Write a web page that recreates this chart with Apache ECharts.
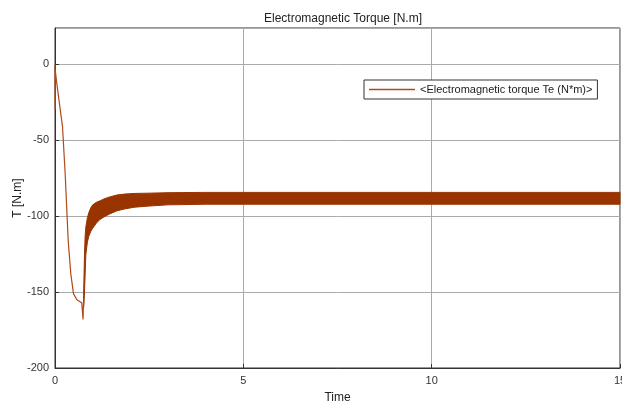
<!DOCTYPE html>
<html lang="en">
<head>
    <meta charset="utf-8">
    <title>ECharts</title>
    <script src="https://cdn.jsdelivr.net/npm/echarts@6/dist/echarts.min.js"></script>
</head>
<body style="margin:0;background:#fff">
<div id="main" style="width: 622px;height:404px;"></div>
<script type="text/javascript">
    // start-up transient (thin line)
    var startT = [0, 0.004, 0.008, 0.045, 0.13, 0.2, 0.22, 0.27, 0.31, 0.35, 0.42, 0.49, 0.58, 0.71, 0.74, 0.745, 0.755, 0.76];
    var startTe = [0, -30, -4, -12, -28, -41, -50, -72, -94, -116, -138, -151, -155, -157, -158, -168, -158, -156];

    // ripple band (upper / lower envelope of the torque)
    var bandT = [0.76, 0.78, 0.80, 0.82, 0.86, 0.9, 0.95, 1.0, 1.1, 1.2, 1.3, 1.45, 1.65, 1.85, 2.1, 2.5, 3.0, 4.0, 15];
    var bandUpper = [-152, -128, -113, -107, -101, -97.5, -94.5, -92.5, -90.8, -89.8, -88.6, -87.3, -86, -85.4, -85, -84.8, -84.5, -84.3, -84.3];
    var bandLower = [-160, -152, -138, -125, -117, -113, -110, -108, -104.5, -102, -100.5, -98.5, -96.4, -95.2, -94.1, -93.3, -92.5, -92.1, -92.1];

    var seriesName = '<Electromagnetic torque Te (N*m)>';
    var lineColor = '#b04a18';
    var bandColor = '#993300';

    var startData = [];
    for (var i = 0; i < startT.length; i++) {
        startData.push([startT[i], startTe[i]]);
    }

    // band drawn as one polygon: upper edge left->right, lower edge right->left
    function renderBand(params, api) {
        var pts = [];
        for (var k = 0; k < bandT.length; k++) {
            pts.push(api.coord([bandT[k], bandUpper[k]]));
        }
        for (var m = bandT.length - 1; m >= 0; m--) {
            pts.push(api.coord([bandT[m], bandLower[m]]));
        }
        return {
            type: 'polygon',
            shape: {points: pts},
            style: {fill: bandColor, stroke: bandColor, lineWidth: 1}
        };
    }

    var myChart = echarts.init(document.getElementById('main'));
    var option = {
        animation: false,
        textStyle: {fontFamily: 'Liberation Sans'},
        title: {
            text: 'Electromagnetic Torque [N.m]',
            left: 338,
            textAlign: 'center',
            top: 8,
            textStyle: {fontSize: 12, fontWeight: 'normal', color: '#222'}
        },
        legend: {
            data: [{name: seriesName, icon: 'rect'}],
            left: 364,
            top: 80,
            itemWidth: 46,
            itemHeight: 1.5,
            itemGap: 4,
            padding: [4, 5, 4, 5],
            borderColor: '#333',
            borderWidth: 1,
            backgroundColor: '#fff',
            textStyle: {fontSize: 11, color: '#222'}
        },
        grid: {
            left: 55,
            right: 2,
            top: 28,
            bottom: 36,
            outerBoundsMode: 'none',
            containLabel: false,
            show: true,
            borderColor: '#333',
            borderWidth: 1
        },
        xAxis: {
            type: 'value',
            min: 0,
            max: 15,
            interval: 5,
            name: 'Time',
            nameLocation: 'middle',
            nameGap: 24,
            nameTextStyle: {fontSize: 12, color: '#222'},
            axisLine: {onZero: false, lineStyle: {color: '#333'}},
            axisTick: {inside: true, length: 4, lineStyle: {color: '#333'}},
            axisLabel: {fontSize: 11, color: '#333', margin: 7},
            splitLine: {lineStyle: {color: '#aaa'}}
        },
        yAxis: {
            type: 'value',
            min: -200,
            max: 24,
            interval: 50,
            name: 'T [N.m]',
            nameLocation: 'middle',
            nameGap: 31,
            nameMoveOverlap: false,
            nameTextStyle: {fontSize: 12, color: '#222'},
            axisLine: {show: true, onZero: false, lineStyle: {color: '#333'}},
            axisTick: {inside: true, length: 4, lineStyle: {color: '#333'}},
            axisLabel: {fontSize: 11, color: '#333', margin: 6, showMaxLabel: false},
            splitLine: {lineStyle: {color: '#aaa'}}
        },
        series: [{
            name: seriesName,
            type: 'line',
            data: startData,
            showSymbol: false,
            itemStyle: {color: lineColor},
            lineStyle: {color: lineColor, width: 1.2}
        }, {
            name: 'band',
            type: 'custom',
            data: [[0]],
            renderItem: renderBand,
            silent: true
        }]
    };
    myChart.setOption(option);
</script>
</body>
</html>
